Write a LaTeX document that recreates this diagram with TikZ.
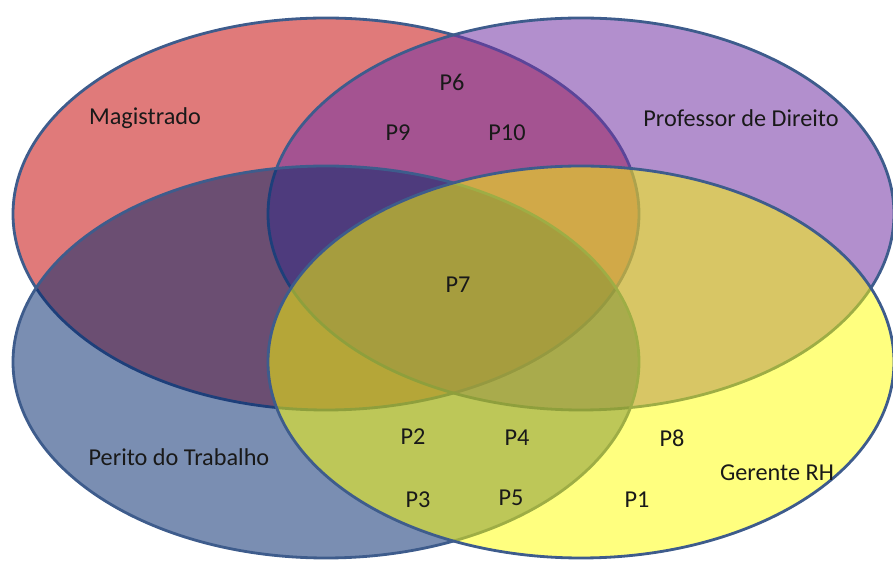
\documentclass[tikz,border=0pt]{standalone}
\usepackage{fontspec}
\setmainfont{Carlito}
\usepackage{tikz}

\definecolor{rimblue}{RGB}{62,92,140}
\definecolor{magred}{RGB}{224,122,122}
\definecolor{profpurple}{RGB}{115,51,164}
\definecolor{peritoblue}{RGB}{0,38,107}
\definecolor{rhyellow}{RGB}{255,255,0}

\begin{document}
\begin{tikzpicture}[
        setshape/.style={draw=rimblue, line width=1.6pt},
        lbl/.style={font=\fontsize{13.8pt}{15pt}\selectfont, text=black!90, inner sep=1pt}
    ]
        \useasboundingbox (0,0) rectangle (17.86,-11.24);

        % the four sets, bottom to top
        \draw[setshape, fill=magred] (6.52,-4.28) ellipse (6.26 and 3.92);
        \draw[setshape, fill=profpurple, fill opacity=0.55] (11.62,-4.28) ellipse (6.26 and 3.92);
        \draw[setshape, fill=peritoblue, fill opacity=0.52] (6.52,-7.24) ellipse (6.26 and 3.92);
        \draw[setshape, fill=rhyellow, fill opacity=0.5] (11.62,-7.24) ellipse (6.26 and 3.92);

        % set names
        \node[lbl] (mag) at (2.90,-2.36) {Magistrado};
        \node[lbl] (prof) at (14.82,-2.36) {Professor de Direito};
        \node[lbl] (perito) at (3.58,-9.14) {Perito do Trabalho};
        \node[lbl] (rh) at (15.54,-9.46) {Gerente RH};

        % people
        \node[lbl] (p6) at (9.04,-1.64) {P6};
        \node[lbl] (p9) at (7.96,-2.66) {P9};
        \node[lbl] (p10) at (10.14,-2.66) {P10};
        \node[lbl] (p7) at (9.16,-5.70) {P7};
        \node[lbl] (p2) at (8.26,-8.74) {P2};
        \node[lbl] (p4) at (10.34,-8.76) {P4};
        \node[lbl] (p8) at (13.44,-8.76) {P8};
        \node[lbl] (p3) at (8.36,-10.00) {P3};
        \node[lbl] (p5) at (10.22,-9.96) {P5};
        \node[lbl] (p1) at (12.74,-10.00) {P1};
    \end{tikzpicture}
\end{document}
